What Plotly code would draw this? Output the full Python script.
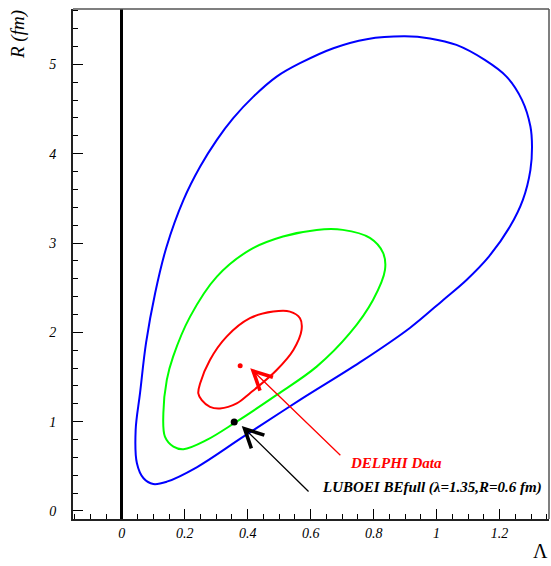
import plotly.graph_objects as go

# Contour points (Lambda, R)
blue_x = [0.044, 0.048, 0.069, 0.100, 0.143, 0.238, 0.385, 0.566, 0.756, 0.915, 1.021, 1.095, 1.166, 1.233,
          1.274, 1.298, 1.303, 1.298, 1.271, 1.222, 1.153, 1.063, 0.979, 0.899, 0.778, 0.672, 0.566, 0.492,
          0.418, 0.354, 0.302, 0.249, 0.196, 0.142, 0.106, 0.077, 0.058, 0.044]
blue_y = [0.907, 0.534, 0.366, 0.302, 0.328, 0.489, 0.829, 1.243, 1.663, 2.049, 2.363, 2.587, 2.848, 3.184,
          3.483, 3.819, 4.080, 4.304, 4.602, 4.863, 5.050, 5.218, 5.291, 5.314, 5.282, 5.181, 5.013, 4.863,
          4.639, 4.398, 4.155, 3.856, 3.483, 2.956, 2.441, 1.881, 1.321, 0.907]

green_x = [0.132, 0.137, 0.164, 0.196, 0.270, 0.360, 0.492, 0.619, 0.725, 0.798, 0.836, 0.830, 0.788, 0.702,
           0.619, 0.512, 0.407, 0.302, 0.217, 0.163, 0.143, 0.132]
green_y = [1.094, 0.832, 0.720, 0.691, 0.795, 0.989, 1.299, 1.616, 1.993, 2.363, 2.699, 2.889, 3.057, 3.147,
           3.147, 3.072, 2.923, 2.624, 2.176, 1.728, 1.467, 1.094]

red_x = [0.254, 0.280, 0.312, 0.365, 0.407, 0.492, 0.545, 0.571, 0.566, 0.534, 0.481, 0.407, 0.333, 0.280,
         0.249, 0.243, 0.254]
red_y = [1.241, 1.166, 1.148, 1.204, 1.318, 1.579, 1.803, 2.027, 2.158, 2.232, 2.232, 2.158, 1.952, 1.691,
         1.430, 1.316, 1.241]

delphi_pt = (0.376, 1.627)
luboei_pt = (0.357, 0.997)

x_ticks = [0, 0.2, 0.4, 0.6, 0.8, 1, 1.2]
x_ticklabels = ["0", "0.2", "0.4", "0.6", "0.8", "1", "1.2"]
y_ticks = [0, 1, 2, 3, 4, 5]
y_ticklabels = ["0", "1", "2", "3", "4", "5"]

FONT = "Liberation Serif, Times New Roman, serif"

fig = go.Figure()
for xs, ys, col in [(blue_x, blue_y, "#0000ff"), (green_x, green_y, "#00ff00"), (red_x, red_y, "#ff0000")]:
    fig.add_trace(go.Scatter(x=xs, y=ys, mode="lines", line=dict(color=col, width=2, shape="spline", smoothing=1.0),
                             showlegend=False, hoverinfo="skip"))

fig.add_trace(go.Scatter(x=[delphi_pt[0]], y=[delphi_pt[1]], mode="markers",
                         marker=dict(color="#ff0000", size=5), showlegend=False))
fig.add_trace(go.Scatter(x=[luboei_pt[0]], y=[luboei_pt[1]], mode="markers",
                         marker=dict(color="black", size=7), showlegend=False))

# arrows
fig.add_annotation(x=0.408, y=1.598, ax=0.699, ay=0.608, xref="x", yref="y", axref="x", ayref="y",
                   text="", showarrow=True, arrowhead=5, arrowsize=2.8, arrowwidth=1.3, arrowcolor="#ff0000",
                   standoff=0, startstandoff=0)
fig.add_annotation(x=0.381, y=0.952, ax=0.598, ay=0.202, xref="x", yref="y", axref="x", ayref="y",
                   text="", showarrow=True, arrowhead=5, arrowsize=2.8, arrowwidth=1.3, arrowcolor="black",
                   standoff=0, startstandoff=0)

fig.add_annotation(x=0.718, y=0.538, xref="x", yref="y", xanchor="left", yanchor="middle",
                   text="<b><i>DELPHI Data</i></b>", showarrow=False,
                   font=dict(family=FONT, size=15, color="#ff0000"))
fig.add_annotation(x=0.63, y=0.258, xref="x", yref="y", xanchor="left", yanchor="middle",
                   text="<b><i>LUBOEI BEfull (λ=1.35,R=0.6 fm)</i></b>", showarrow=False,
                   font=dict(family=FONT, size=15, color="black"))

# axis titles
fig.add_annotation(x=-0.1155, y=0.949, xref="paper", yref="paper", xanchor="center", yanchor="middle",
                   text="<i>R (fm)</i>", textangle=-90, showarrow=False,
                   font=dict(family=FONT, size=19, color="black"))
fig.add_annotation(x=0.983, y=-0.063, xref="paper", yref="paper", xanchor="center", yanchor="middle",
                   text="Λ", showarrow=False,
                   font=dict(family=FONT, size=20, color="black"))

# top and right frame lines (lighter, as in the original)
fig.add_shape(type="line", xref="paper", yref="paper", x0=0, x1=1, y0=1, y1=1,
              line=dict(color="#555555", width=1.5))
fig.add_shape(type="line", xref="paper", yref="paper", x0=1, x1=1, y0=0, y1=1,
              line=dict(color="#555555", width=1.5))

fig.update_layout(
    width=551, height=566,
    margin=dict(l=73, r=2, t=9, b=47),
    plot_bgcolor="white", paper_bgcolor="white",
    showlegend=False,
)
fig.update_xaxes(
    range=[-0.155, 1.357], showgrid=False,
    zeroline=True, zerolinecolor="black", zerolinewidth=2.5,
    showline=True, linecolor="#222222", linewidth=2,
    ticks="inside", ticklen=10, tickwidth=1.2, tickcolor="black",
    tickvals=x_ticks, ticktext=x_ticklabels,
    tickfont=dict(family=FONT, size=14, color="black", style="italic"),
    ticklabelstandoff=0,
    minor=dict(dtick=0.05, tick0=0, ticks="inside", ticklen=5, tickwidth=1, tickcolor="black", showgrid=False),
)
fig.update_yaxes(
    range=[-0.09, 5.62], showgrid=False, zeroline=False,
    showline=True, linecolor="#222222", linewidth=2,
    ticks="inside", ticklen=10, tickwidth=1.2, tickcolor="black",
    tickvals=y_ticks, ticktext=y_ticklabels,
    tickfont=dict(family=FONT, size=14, color="black", style="italic"),
    ticklabelstandoff=12,
    minor=dict(dtick=0.2, tick0=0, ticks="inside", ticklen=5, tickwidth=1, tickcolor="black", showgrid=False),
)

fig.write_html("out.html")
